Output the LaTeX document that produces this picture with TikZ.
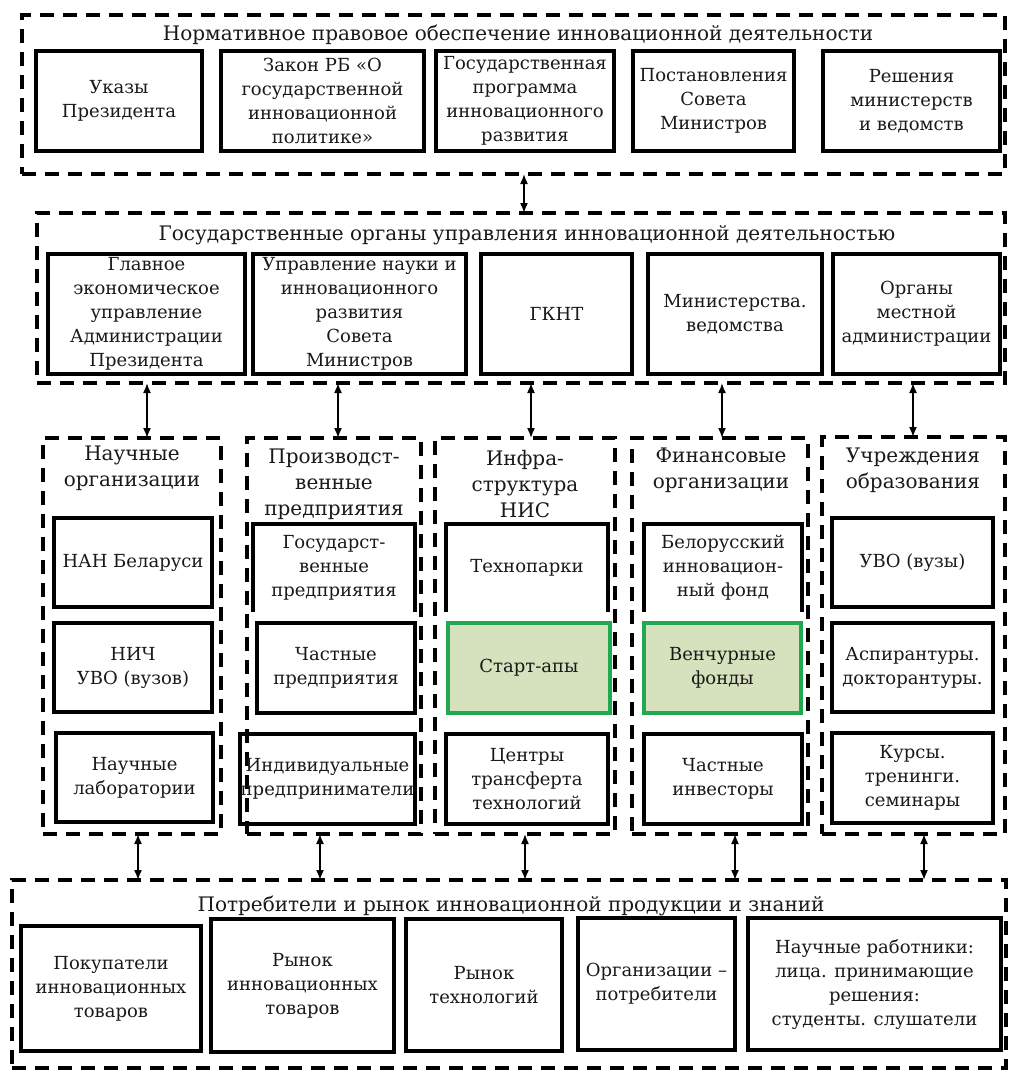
\documentclass[tikz,border=0pt]{standalone}
\usepackage{fontspec}
\setmainfont{DejaVu Serif}
\usetikzlibrary{arrows.meta}
\definecolor{gfill}{RGB}{214,226,190}
\definecolor{gline}{RGB}{34,168,80}
\definecolor{ink}{RGB}{25,25,25}
\newcommand\Bx[7][box]{\node[#1,minimum width={#5-#3},minimum height={#6-#4}] (#2) at ({(#3+#5)/2},{(#4+#6)/2}) {#7};}
\newcommand\Gp[5]{\node[grp,minimum width={#4-#2},minimum height={#5-#3}] (#1) at ({(#2+#4)/2},{(#3+#5)/2}) {};}
\newcommand\Opn[1]{\draw[line width=4.5pt,line join=miter] (#1.south west) -- (#1.north west) -- (#1.north east) -- (#1.south east);}
\begin{document}
\begin{tikzpicture}[x=1pt,y=-1pt,
  box/.style={draw=black,line width=4.8pt,inner sep=0pt,outer sep=0pt,align=center,text=ink,font=\fontsize{18}{24}\selectfont},
  openbox/.style={box,draw=none},
  greenbox/.style={box,draw=gline,fill=gfill},
  grp/.style={draw=black,line width=4pt,dash pattern=on 14pt off 9pt,inner sep=0pt,outer sep=0pt},
  ttl/.style={inner sep=0pt,align=center,text=ink,font=\fontsize{20}{26}\selectfont},
  arr/.style={line width=1.6pt,{Latex[length=10pt,width=8pt]}-{Latex[length=10pt,width=8pt]}}]
\useasboundingbox (0,0) rectangle (1009,1074);
\fill[white] (0,0) rectangle (1009,1074);

% ---- group 1
\Gp{g1}{22}{15}{1005}{174}
\node[ttl] (t1) at (518,35) {Нормативное правовое обеспечение инновационной деятельности};
\Bx{n1}{36}{51}{202}{151}{Указы\\Президента}
\Bx{n2}{221}{51}{424}{151}{Закон РБ «О\\государственной\\инновационной\\политике»}
\Bx{n3}{436}{51}{614}{151}{Государственная\\программа\\инновационного\\развития}
\Bx{n4}{633}{51}{794}{151}{Постановления\\Совета\\Министров}
\Bx{n5}{823}{51}{1000}{151}{Решения\\министерств\\и ведомств}

% ---- group 2
\Gp{g2}{37}{213}{1005}{383}
\node[ttl] (t2) at (527,235) {Государственные органы управления инновационной деятельностью};
\Bx{m1}{48}{254}{245}{374}{Главное\\экономическое\\управление\\Администрации\\Президента}
\Bx{m2}{253}{254}{466}{374}{Управление науки и\\инновационного\\развития\\Совета\\Министров}
\Bx{m3}{481}{254}{632}{374}{ГКНТ}
\Bx{m4}{648}{254}{822}{374}{Министерства.\\ведомства}
\Bx{m5}{833}{254}{1000}{374}{Органы\\местной\\администрации}

% ---- middle columns
\Gp{c1}{43}{438}{221}{834}
\Gp{c2}{247}{438}{421}{834}
\Gp{c3}{435}{438}{615}{834}
\Gp{c4}{632}{438}{808}{834}
\Gp{c5}{822}{437}{1005}{834}
\node[ttl] (ct1) at (132,468) {Научные\\организации};
\node[ttl] (ct2) at (334,484) {Производст-\\венные\\предприятия};
\node[ttl] (ct3) at (525,484) {Инфра-\\структура\\НИС};
\node[ttl] (ct4) at (721,470) {Финансовые\\организации};
\node[ttl] (ct5) at (913,470) {Учреждения\\образования};

\Bx{b11}{54}{518}{212}{607}{НАН Беларуси}
\Bx{b12}{54}{623}{212}{712}{НИЧ\\УВО (вузов)}
\Bx{b13}{56}{733}{213}{822}{Научные\\лаборатории}

\Bx[openbox]{b21}{253}{524}{415}{612}{Государст-\\венные\\предприятия}
\Opn{b21}
\Bx{b22}{257}{623}{415}{713}{Частные\\предприятия}
\Bx{b23}{240}{734}{415}{824}{Индивидуальные\\предприниматели}

\Bx[openbox]{b31}{446}{524}{608}{612}{Технопарки}
\Opn{b31}
\Bx[greenbox]{b32}{448}{623}{610}{713}{Старт-апы}
\Bx{b33}{446}{734}{608}{824}{Центры\\трансферта\\технологий}

\Bx[openbox]{b41}{644}{524}{802}{612}{Белорусский\\инновацион-\\ный фонд}
\Opn{b41}
\Bx[greenbox]{b42}{644}{623}{801}{713}{Венчурные\\фонды}
\Bx{b43}{644}{734}{802}{824}{Частные\\инвесторы}

\Bx{b51}{832}{518}{993}{607}{УВО (вузы)}
\Bx{b52}{832}{623}{993}{712}{Аспирантуры.\\докторантуры.}
\Bx{b53}{832}{733}{993}{823}{Курсы.\\тренинги.\\семинары}

% ---- group 4
\Gp{g4}{12}{880}{1006}{1068}
\node[ttl] (t4) at (511,906) {Потребители и рынок инновационной продукции и знаний};
\Bx{p1}{21}{926}{201}{1051}{Покупатели\\инновационных\\товаров}
\Bx{p2}{211}{919}{394}{1052}{Рынок\\инновационных\\товаров}
\Bx{p3}{406}{919}{562}{1051}{Рынок\\технологий}
\Bx{p4}{578}{918}{735}{1050}{Организации –\\потребители}
\Bx{p5}{748}{918}{1001}{1050}{Научные работники:\\лица. принимающие\\решения:\\студенты. слушатели}

% ---- arrow positions
\coordinate (xa) at (524,0);
\coordinate (xb1) at (147,0);
\coordinate (xb2) at (338,0);
\coordinate (xb3) at (531,0);
\coordinate (xb4) at (722,0);
\coordinate (xb5) at (913,0);
\coordinate (xc1) at (138,0);
\coordinate (xc2) at (320,0);
\coordinate (xc3) at (525,0);
\coordinate (xc4) at (735,0);
\coordinate (xc5) at (924,0);

\draw[arr] (g1.south -| xa) -- (g2.north -| xa);
\draw[arr] (g2.south -| xb1) -- (c1.north -| xb1);
\draw[arr] (g2.south -| xb2) -- (c2.north -| xb2);
\draw[arr] (g2.south -| xb3) -- (c3.north -| xb3);
\draw[arr] (g2.south -| xb4) -- (c4.north -| xb4);
\draw[arr] (g2.south -| xb5) -- (c5.north -| xb5);
\draw[arr] (c1.south -| xc1) -- (g4.north -| xc1);
\draw[arr] (c2.south -| xc2) -- (g4.north -| xc2);
\draw[arr] (c3.south -| xc3) -- (g4.north -| xc3);
\draw[arr] (c4.south -| xc4) -- (g4.north -| xc4);
\draw[arr] (c5.south -| xc5) -- (g4.north -| xc5);
\end{tikzpicture}
\end{document}
